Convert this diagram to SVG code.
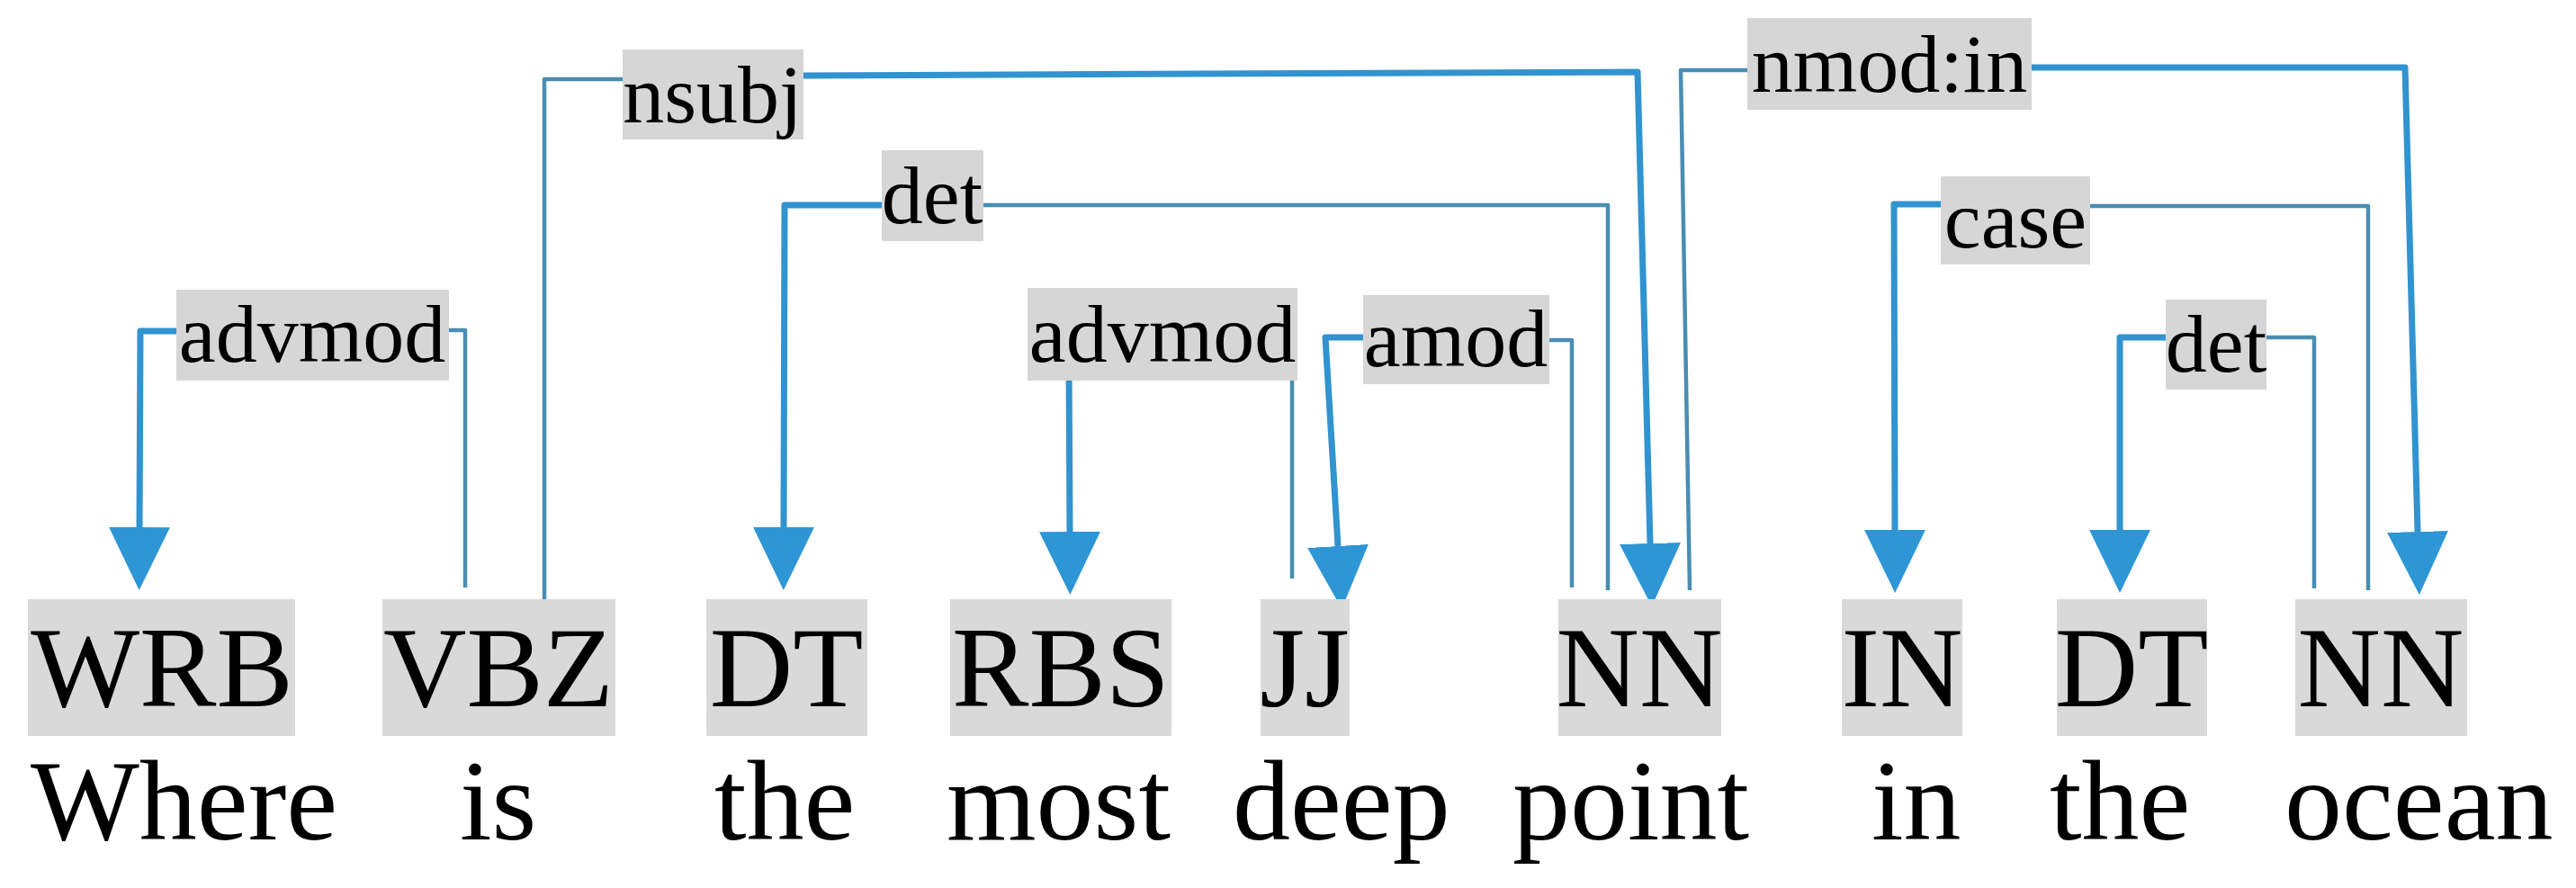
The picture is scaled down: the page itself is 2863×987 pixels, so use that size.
<svg xmlns="http://www.w3.org/2000/svg" width="2863" height="987" viewBox="0 0 2863 987">
<style>
.bg{fill:#ffffff}
.pos{fill:#d9d9d9}
.lblbox{fill:#d6d6d6}
.postext{font-family:"Liberation Serif","Times New Roman",serif;font-size:128px;fill:#000;text-anchor:middle}
.word{font-family:"Liberation Serif","Times New Roman",serif;font-size:128px;fill:#000}
.lbl{font-family:"Liberation Serif","Times New Roman",serif;font-size:92px;fill:#000;text-anchor:middle}
.head{fill:none;stroke:#4a8db2;stroke-width:4.5;stroke-linejoin:round}
.dep{fill:none;stroke:#3193cf;stroke-width:7;stroke-linejoin:round;marker-end:url(#arr)}
</style>
<defs>
<marker id="arr" markerUnits="userSpaceOnUse" markerWidth="70" markerHeight="70" refX="0" refY="32" orient="auto" viewBox="0 0 66 64">
<path d="M0,0 L66,32 L0,64 Z" fill="#2e96d4"/>
</marker>
</defs>
<rect class="bg" x="0" y="0" width="2863" height="987"/>

<g id="connectors">
<path class="head" d="M517,653 L517,367 L499,367"/>
<path class="dep" d="M196,368 L156,368 L155,586"/>
<path class="head" d="M605,668 L605,88 L692,88"/>
<path class="dep" d="M893,84 L1820,80 L1834,604"/>
<path class="head" d="M1787,656 L1787,228 L1093,228"/>
<path class="dep" d="M980,228 L872,228 L871,586"/>
<path class="head" d="M1436,643 L1436,400"/>
<path class="dep" d="M1188,400 L1189,591"/>
<path class="head" d="M1747,653 L1747,378 L1722,378"/>
<path class="dep" d="M1515,375 L1473,375 L1487,607"/>
<path class="head" d="M1878,656 L1868,78 L1942,78"/>
<path class="dep" d="M2258,75 L2673,75 L2687,591"/>
<path class="head" d="M2632,656 L2632,229 L2323,229"/>
<path class="dep" d="M2157,227 L2105,227 L2106,589"/>
<path class="head" d="M2572,654 L2572,375 L2519,375"/>
<path class="dep" d="M2407,375 L2356,375 L2356,589"/>
</g>

<g id="label-advmod1"><rect class="lblbox" x="196" y="322" width="303" height="101"/><text class="lbl" x="347" y="402">advmod</text></g>
<g id="label-nsubj"><rect class="lblbox" x="692" y="55" width="201" height="100"/><text class="lbl" x="792" y="136">nsubj</text></g>
<g id="label-det1"><rect class="lblbox" x="980" y="167" width="113" height="101"/><text class="lbl" x="1036" y="248">det</text></g>
<g id="label-advmod2"><rect class="lblbox" x="1142" y="320" width="300" height="103"/><text class="lbl" x="1292" y="402">advmod</text></g>
<g id="label-amod"><rect class="lblbox" x="1515" y="328" width="207" height="99"/><text class="lbl" x="1618" y="407">amod</text></g>
<g id="label-nmodin"><rect class="lblbox" x="1942" y="20" width="316" height="102"/><text class="lbl" x="2100" y="102">nmod:in</text></g>
<g id="label-case"><rect class="lblbox" x="2157" y="196" width="166" height="98"/><text class="lbl" x="2240" y="275">case</text></g>
<g id="label-det2"><rect class="lblbox" x="2407" y="333" width="112" height="100"/><text class="lbl" x="2463" y="413">det</text></g>

<g id="tok-1"><rect class="pos" x="31" y="666" width="297" height="152"/><text class="postext" x="180" y="785">WRB</text><text class="word" x="34" y="933">Where</text></g>
<g id="tok-2"><rect class="pos" x="425" y="666" width="259" height="152"/><text class="postext" x="554" y="785">VBZ</text><text class="word" x="511" y="933">is</text></g>
<g id="tok-3"><rect class="pos" x="785" y="666" width="179" height="152"/><text class="postext" x="874" y="785">DT</text><text class="word" x="794" y="933">the</text></g>
<g id="tok-4"><rect class="pos" x="1056" y="666" width="246" height="152"/><text class="postext" x="1179" y="785">RBS</text><text class="word" x="1052" y="933">most</text></g>
<g id="tok-5"><rect class="pos" x="1401" y="666" width="99" height="152"/><text class="postext" x="1450" y="785">JJ</text><text class="word" x="1370" y="933">deep</text></g>
<g id="tok-6"><rect class="pos" x="1732" y="666" width="181" height="152"/><text class="postext" x="1822" y="785">NN</text><text class="word" x="1681" y="933">point</text></g>
<g id="tok-7"><rect class="pos" x="2047" y="666" width="134" height="152"/><text class="postext" x="2114" y="785">IN</text><text class="word" x="2080" y="933">in</text></g>
<g id="tok-8"><rect class="pos" x="2286" y="666" width="167" height="152"/><text class="postext" x="2369" y="785">DT</text><text class="word" x="2278" y="933">the</text></g>
<g id="tok-9"><rect class="pos" x="2551" y="666" width="191" height="152"/><text class="postext" x="2646" y="785">NN</text><text class="word" x="2539" y="933">ocean</text></g>
</svg>
